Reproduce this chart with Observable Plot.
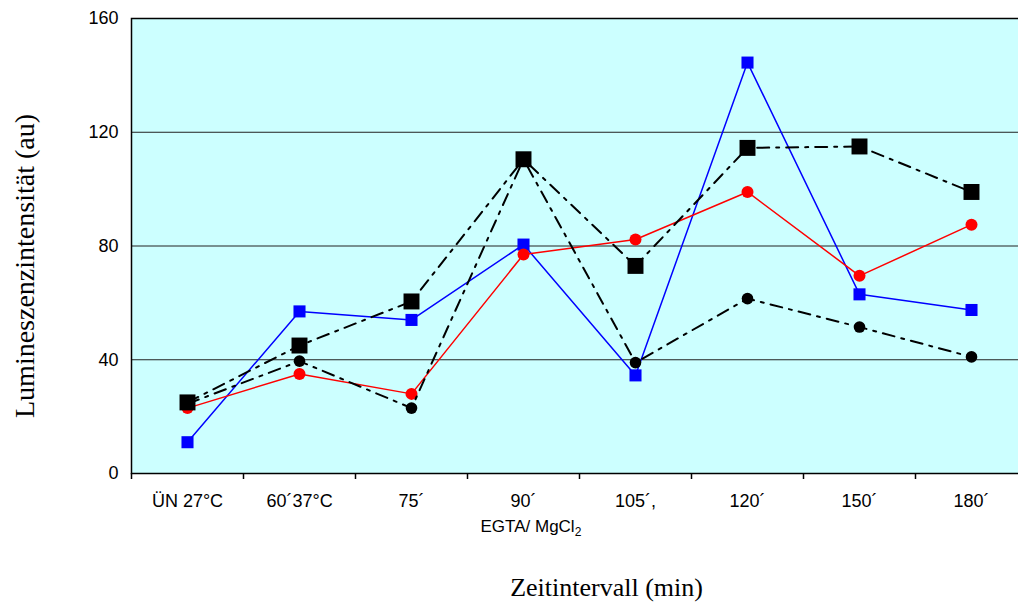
<!DOCTYPE html>
<html>
<head>
<meta charset="utf-8">
<script src="https://cdn.jsdelivr.net/npm/d3@7"></script>
<script src="https://cdn.jsdelivr.net/npm/@observablehq/plot@0.6"></script>
<style>
  html, body { margin: 0; padding: 0; background: #fff; overflow: hidden; }
  #chart svg { max-width: none !important; }
</style>
</head>
<body>
<div id="chart"></div>
<script>
const categories = ["ÜN 27°C", "60´37°C", "75´", "90´", "105´,", "120´", "150´", "180´"];
const blueSquares  = [11, 57, 54, 80.5, 34.5, 144.5, 63, 57.5];
const redCircles   = [23, 35, 28, 77, 82.3, 99, 69.5, 87.5];
const blackCircles = [24.5, 39.5, 23, 110.5, 39, 61.5, 51.5, 41];
const blackSquares = [25, 45, 60.5, 110.5, 73, 114.5, 115, 99];
const yTicks = [0, 40, 80, 120, 160];
const gridValues = [40, 80, 120];
const subLabel = "EGTA/ MgCl2";
const xLabel = "Zeitintervall (min)";
const yLabel = "Lumineszenzintensität (au)";

const rows = (vals) => categories.map((c, i) => ({cat: c, v: vals[i]}));
const blueData = rows(blueSquares);
const redData = rows(redCircles);
const bcData = rows(blackCircles);
const bsData = rows(blackSquares);

const dash = "12,7,3,7";
const serif = "Liberation Serif, Times New Roman, serif";

const svg = Plot.plot({
  width: 1030,
  height: 610,
  marginLeft: 131,
  marginRight: 3,
  marginTop: 18,
  marginBottom: 137,
  style: {fontFamily: "Liberation Sans, Arial, sans-serif", background: "white", color: "black", maxWidth: "none"},
  x: {type: "band", domain: categories, padding: 0},
  y: {domain: [0, 160]},
  marks: [
    Plot.frame({fill: "#CCFFFF", stroke: "none"}),
    Plot.ruleY(gridValues, {stroke: "#222", strokeWidth: 1}),
    Plot.line(blueData, {x: "cat", y: "v", stroke: "#0000FF", strokeWidth: 1.5}),
    Plot.dot(blueData, {x: "cat", y: "v", symbol: "square", r: 6.8, fill: "#0000FF"}),
    Plot.line(redData, {x: "cat", y: "v", stroke: "#FF0000", strokeWidth: 1.5}),
    Plot.dot(redData, {x: "cat", y: "v", r: 6, fill: "#FF0000"}),
    Plot.line(bcData, {x: "cat", y: "v", stroke: "black", strokeWidth: 2, strokeDasharray: dash}),
    Plot.dot(bcData, {x: "cat", y: "v", r: 5.8, fill: "black"}),
    Plot.line(bsData, {x: "cat", y: "v", stroke: "black", strokeWidth: 2, strokeDasharray: dash}),
    Plot.dot(bsData, {x: "cat", y: "v", symbol: "square", r: 9, fill: "black"}),
    Plot.frame({stroke: "black", strokeWidth: 1.5}),
    Plot.axisY({ticks: yTicks, tickSize: 0, tickPadding: 13, fontSize: 18, label: null}),
    Plot.axisX({tickSize: 0, tickPadding: 21, fontSize: 18, label: null}),
    Plot.axisX({tickSize: 6, dx: -56, text: null, label: null, strokeWidth: 1.5}),
    Plot.text([subLabel], {x: () => "90´", frameAnchor: "bottom", dx: -43, dy: 58, textAnchor: "start", fontSize: 17}),
    Plot.text([xLabel], {frameAnchor: "bottom", dx: 27, dy: 122, fontSize: 26, fontFamily: serif})
  ]
});

// subscript for MgCl2
d3.select(svg).selectAll("text").filter(function() { return this.textContent === subLabel; })
  .each(function() {
    const t = d3.select(this);
    t.text("EGTA/ MgCl");
    t.append("tspan").attr("font-size", 12).attr("dy", 4).text("2");
  });

// rotated y-axis title
d3.select(svg).append("text")
  .attr("transform", "translate(34,266) rotate(-90)")
  .attr("text-anchor", "middle")
  .attr("font-family", serif)
  .attr("font-size", 28)
  .attr("fill", "black")
  .text(yLabel);

document.getElementById("chart").appendChild(svg);
</script>
</body>
</html>
